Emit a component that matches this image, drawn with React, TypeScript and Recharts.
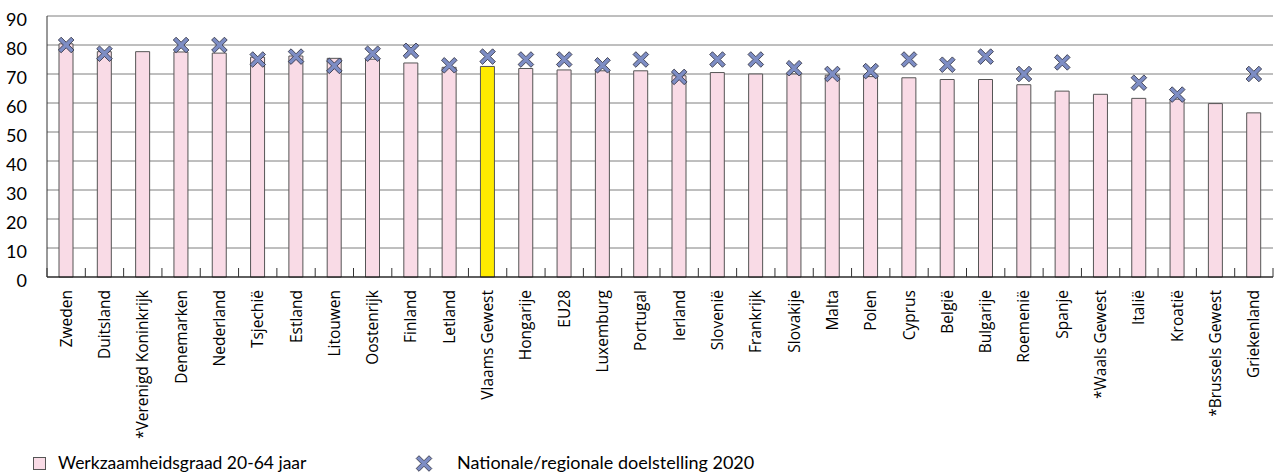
import { Bar, CartesianGrid, Cell, ComposedChart, Legend, Line, XAxis, YAxis } from "recharts";

const categories = [
  "Zweden", "Duitsland", "*Verenigd Koninkrijk", "Denemarken", "Nederland", "Tsjechië", "Estland", "Litouwen",
  "Oostenrijk", "Finland", "Letland", "Vlaams Gewest", "Hongarije", "EU28", "Luxemburg", "Portugal",
  "Ierland", "Slovenië", "Frankrijk", "Slovakije", "Malta", "Polen", "Cyprus", "België",
  "Bulgarije", "Roemenië", "Spanje", "*Waals Gewest", "Italië", "Kroatië", "*Brussels Gewest", "Griekenland"
];

const rate = [
  80.4, 77.7, 77.7, 77.6, 77.2, 75.8, 76.2, 75.4,
  75.1, 73.8, 72.3, 72.6, 71.9, 71.4, 71.1, 71.1,
  69.4, 70.5, 70.0, 70.0, 69.6, 69.1, 68.7, 68.1,
  68.1, 66.3, 64.1, 63.0, 61.6, 61.3, 59.8, 56.6
];

const target: (number | null)[] = [
  80, 77, null, 80, 80, 75, 76, 72.8,
  77, 78, 73, 76, 75, 75, 73, 75,
  69, 75, 75, 72, 70, 71, 75, 73.2,
  76, 70, 74, null, 67, 62.9, null, 70
];

const yTicks = [0, 10, 20, 30, 40, 50, 60, 70, 80, 90];
const highlight = "Vlaams Gewest";

const data = categories.map((name, i) => ({ name, rate: rate[i], target: target[i] }));

const W = 1274;
const H = 473;
const LEFT = 47;
const RIGHT = 1;
const band = (W - LEFT - RIGHT) / categories.length;

const PINK = "#f9dbe6";
const MARK = "#7d8dc4";

// X-shaped polygon for the target markers
function cross(cx: number, cy: number, s: number, d: number) {
  return [
    [cx - s, cy - s + d], [cx - s + d, cy - s], [cx, cy - d], [cx + s - d, cy - s],
    [cx + s, cy - s + d], [cx + d, cy], [cx + s, cy + s - d], [cx + s - d, cy + s],
    [cx, cy + d], [cx - s + d, cy + s], [cx - s, cy + s - d], [cx - d, cy]
  ].map((p) => p.join(",")).join(" ");
}

function CrossDot(props: any) {
  const { cx, cy, value, index } = props;
  if (value == null || cy == null) return <g key={index} />;
  return <polygon key={index} points={cross(cx, cy, 7.8, 2.8)} fill={MARK} stroke="#2b2b3a" strokeWidth={0.8} />;
}

function CategoryTick(props: any) {
  const { x, y, payload, index } = props;
  const left = x - band / 2;
  return (
    <g>
      <line x1={left} x2={left} y1={y} y2={y - 9} stroke="#333" />
      {index === categories.length - 1 ? (
        <line x1={x + band / 2} x2={x + band / 2} y1={y} y2={y - 9} stroke="#333" />
      ) : null}
      <text
        transform={`translate(${x + 5.5},${y + 13}) rotate(-90)`}
        textAnchor="end"
        fontSize={15.5}
        fontFamily="'Open Sans'"
        fill="#000"
      >
        {payload.value}
      </text>
    </g>
  );
}

function ValueTick(props: any) {
  const { x, y, payload } = props;
  return (
    <text x={x} y={y + 10} textAnchor="end" fontSize={18} fontFamily="Lato" fill="#000">
      {payload.value}
    </text>
  );
}

function LegendBox() {
  return (
    <svg width={W} height={30} style={{ display: "block" }}>
      <rect x={33.5} y={14.5} width={12} height={12} fill={PINK} stroke="#555" />
      <text x={58} y={26} fontSize={17.5} fontFamily="Lato" fill="#000">
        Werkzaamheidsgraad 20-64 jaar
      </text>
      <polygon points={cross(424, 20.5, 7.8, 2.8)} fill={MARK} stroke="#2b2b3a" strokeWidth={0.8} />
      <text x={457} y={26} fontSize={18} fontFamily="Lato" fill="#000">
        Nationale/regionale doelstelling 2020
      </text>
    </svg>
  );
}

export default function App() {
  return (
    <div style={{ position: "absolute", left: 0, top: 0, width: W, height: H, background: "#fff" }}>
      <ComposedChart
        width={W}
        height={H}
        data={data}
        margin={{ top: 16, right: RIGHT, left: 0, bottom: 6 }}
        barCategoryGap={0}
      >
        <CartesianGrid vertical={false} stroke="#7f7f7f" />
        <XAxis
          dataKey="name"
          interval={0}
          height={160}
          tickLine={false}
          tickSize={0}
          tickMargin={0}
          axisLine={{ stroke: "#000" }}
          tick={<CategoryTick />}
        />
        <YAxis
          domain={[0, 90]}
          ticks={yTicks}
          width={LEFT}
          tickLine={false}
          tickSize={0}
          tickMargin={20}
          axisLine={{ stroke: "#333" }}
          tick={<ValueTick />}
        />
        <Legend verticalAlign="bottom" wrapperStyle={{ left: 0, bottom: 0, width: W }} content={() => <LegendBox />} />
        <Bar dataKey="rate" barSize={14} stroke="#555" strokeWidth={1} isAnimationActive={false}>
          {data.map((d) => (
            <Cell key={d.name} fill={d.name === highlight ? "#ffeb00" : PINK} />
          ))}
        </Bar>
        <Line
          dataKey="target"
          stroke="none"
          dot={<CrossDot />}
          activeDot={false}
          legendType="none"
          isAnimationActive={false}
        />
      </ComposedChart>
    </div>
  );
}
